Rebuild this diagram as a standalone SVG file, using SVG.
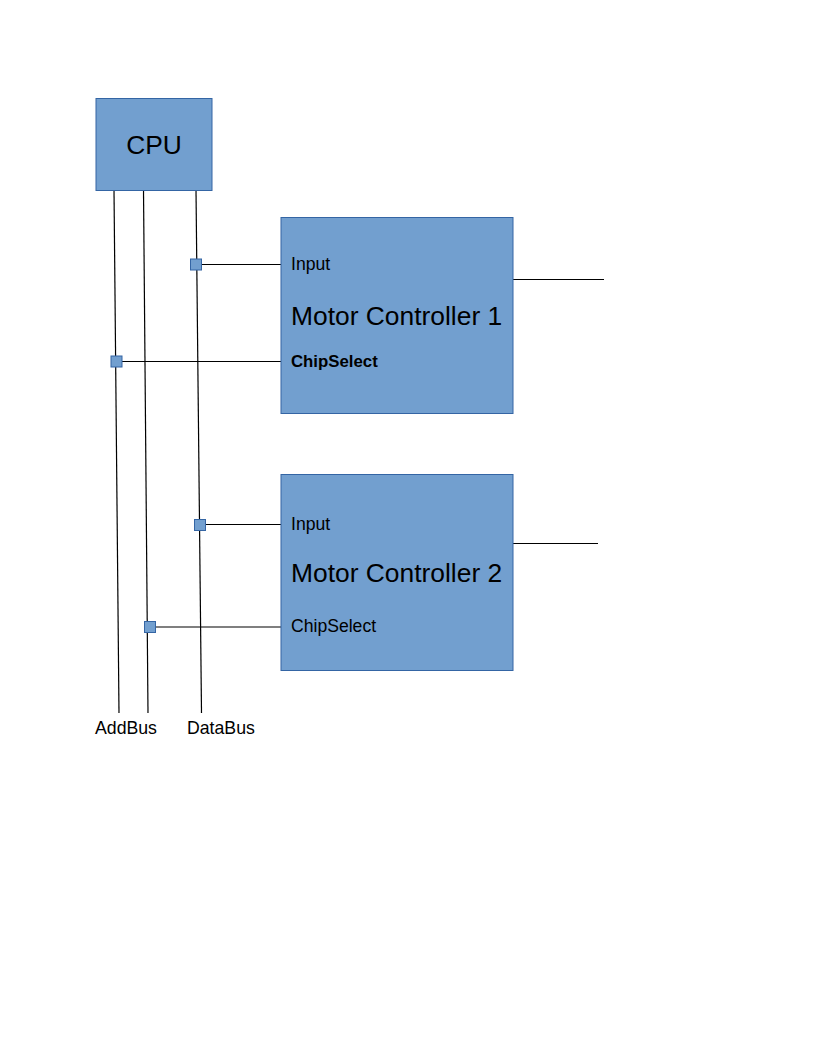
<svg xmlns="http://www.w3.org/2000/svg" width="816" height="1056" viewBox="0 0 816 1056">
<style>
.box{fill:#729fcf;stroke:#3465a4;stroke-width:1}
.jn{fill:#729fcf;stroke:#3465a4;stroke-width:1}
.ln{stroke:#000;stroke-width:1.2;fill:none}
text{font-family:"Liberation Sans",Arial,sans-serif;fill:#000}
.big{font-size:26.4px}
.sm{font-size:17.6px}
.lbl{font-size:17.7px}
</style>
<rect width="816" height="1056" fill="#fff"/>
<g id="connectors">
<line class="ln" x1="114" y1="190" x2="119" y2="713"/>
<line class="ln" x1="143.5" y1="190" x2="148" y2="713"/>
<line class="ln" x1="196" y1="190" x2="201.5" y2="713"/>
<line class="ln" x1="201" y1="264.5" x2="281" y2="264.5"/>
<line class="ln" x1="121" y1="361.5" x2="281" y2="361.5"/>
<line class="ln" x1="205" y1="524.5" x2="281" y2="524.5"/>
<line class="ln" x1="155" y1="627" x2="281" y2="627"/>
<line class="ln" x1="513" y1="279.5" x2="604" y2="279.5"/>
<line class="ln" x1="513" y1="543.5" x2="598" y2="543.5"/>
</g>
<g id="cpu">
<rect class="box" x="96" y="98.5" width="116" height="92"/>
<text class="big" x="154" y="154" text-anchor="middle">CPU</text>
</g>
<g id="mc1">
<rect class="box" x="281" y="217.5" width="232" height="196"/>
<text class="sm" x="291" y="270">Input</text>
<text class="big" x="291" y="324.5">Motor Controller 1</text>
<text x="291" y="367" font-size="16.8" font-weight="bold">ChipSelect</text>
</g>
<g id="mc2">
<rect class="box" x="281" y="474.5" width="232" height="196"/>
<text class="sm" x="291" y="530">Input</text>
<text class="big" x="291" y="581.5">Motor Controller 2</text>
<text class="sm" x="291" y="632">ChipSelect</text>
</g>
<g id="junctions">
<rect class="jn" x="190.5" y="259" width="11" height="11"/>
<rect class="jn" x="111" y="356" width="11" height="11"/>
<rect class="jn" x="194.5" y="519.5" width="11" height="11"/>
<rect class="jn" x="144.5" y="621.5" width="11" height="11"/>
</g>
<g id="labels">
<text class="lbl" x="95" y="734">AddBus</text>
<text class="lbl" x="187" y="734">DataBus</text>
</g>
</svg>
